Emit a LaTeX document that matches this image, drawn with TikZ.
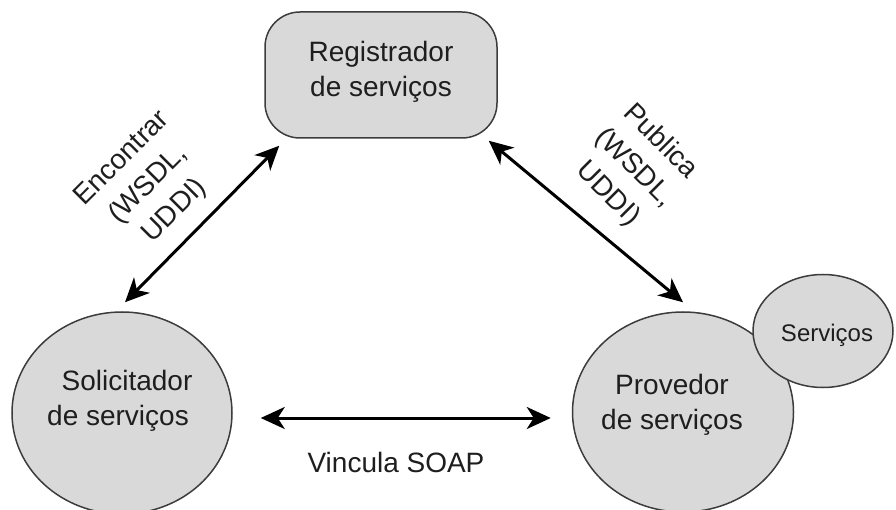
\documentclass[tikz,border=0pt]{standalone}
\usepackage{fontspec}
\setmainfont{Liberation Sans}
\usetikzlibrary{arrows.meta,shapes.geometric}
\definecolor{shade}{HTML}{D9D9D9}
\definecolor{edge}{HTML}{3C3C3C}
\definecolor{ink}{HTML}{1E1E1E}
\begin{document}
\begin{tikzpicture}[x=1pt,y=-1pt,
  shapebox/.style={draw=edge,fill=shade,line width=1.5pt,inner sep=0pt},
  txt/.style={text=ink,align=center,inner sep=0pt,font=\fontsize{28}{35}\selectfont},
  slanttxt/.style={text=ink,align=center,inner sep=0pt,font=\fontsize{28}{37}\selectfont},
  smalltxt/.style={text=ink,align=center,inner sep=0pt,font=\fontsize{24}{29}\selectfont},
  biarrow/.style={line width=3pt,draw=black,
    {Stealth[length=24pt,width=22pt,inset=7pt]}-{Stealth[length=24pt,width=22pt,inset=7pt]}}
]
\useasboundingbox (0,0) rectangle (896,510);

% registry box
\node[shapebox,rounded corners=35pt,minimum width=232pt,minimum height=126pt] (reg) at (381,75) {};
\node[txt] (regtxt) at (381,72) {Registrador\\de serviços};

% requester
\node[shapebox,ellipse,minimum width=220pt,minimum height=202pt] (sol) at (122,413) {};
\node[txt] (soltxt) at (118,401) {\hspace*{18pt}Solicitador\\de serviços};

% provider and its services
\node[shapebox,ellipse,minimum width=221pt,minimum height=200pt] (pro) at (683,412) {};
\node[shapebox,ellipse,minimum width=140pt,minimum height=113pt] (svc) at (823,331) {};
\node[smalltxt] (svctxt) at (827,335) {Serviços};
\node[txt] (protxt) at (672,405) {Provedor\\de serviços};

% connectors
\draw[biarrow] ([shift={(3,-9)}]sol.north) -- ([shift={(15,7)}]reg.south west);
\draw[biarrow] ([shift={(-9,2)}]reg.south east) -- ([shift={(0,-9)}]pro.north);
\draw[biarrow] ([shift={(28,5)}]sol.east) -- ([shift={(-21,6)}]pro.west);

% connector labels
\node[slanttxt,rotate=45] (findlbl) at (149,185) {Encontrar\\(WSDL,\\UDDI)};
\node[slanttxt,rotate=-45] (publbl) at (634,168) {Publica\\(WSDL,\\UDDI)};
\node[txt] (bindlbl) at (396,462) {Vincula SOAP};
\end{tikzpicture}
\end{document}
